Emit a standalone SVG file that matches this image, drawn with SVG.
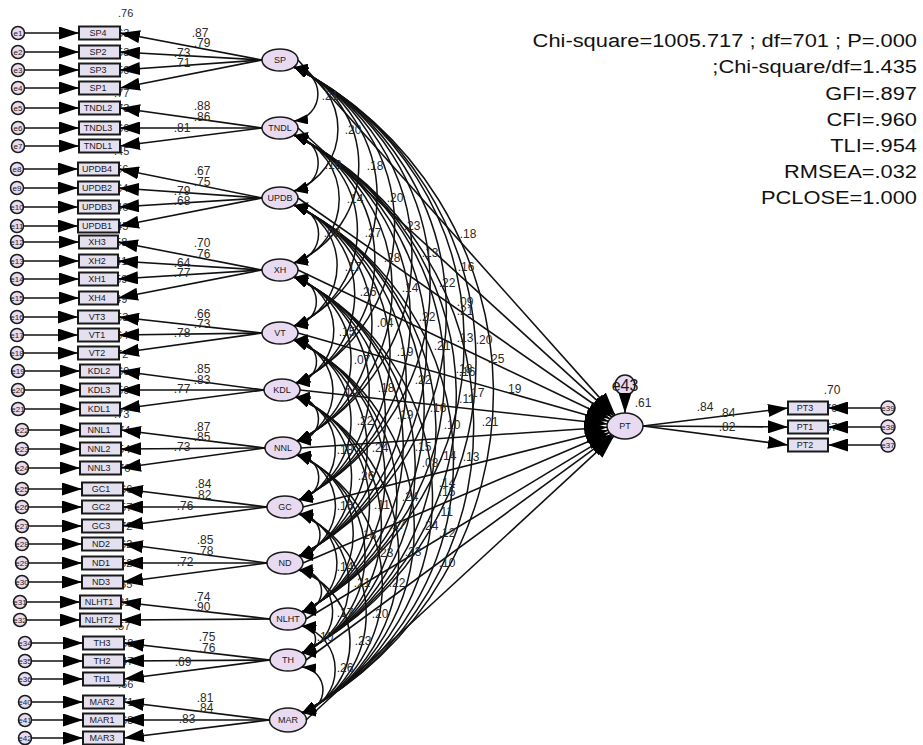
<svg xmlns="http://www.w3.org/2000/svg" width="923" height="745" viewBox="0 0 923 745">
<defs>
<style>
.t{font-family:"Liberation Sans",Arial,sans-serif;fill:#2a2a2a}
.lb{font-size:12px;text-anchor:middle}
.r2{font-size:11px}
.bx{fill:#e4e0f0;stroke:#1a1a1a;stroke-width:2}
.ov{fill:#e8dbf1;stroke:#1a1a1a;stroke-width:1.5}
.nt{font-family:"Liberation Sans",Arial,sans-serif;font-size:9px;text-anchor:middle;fill:#1a1a1a}
.et{font-family:"Liberation Sans",Arial,sans-serif;font-size:8px;text-anchor:middle;fill:#1a1a1a}
.ln line{stroke:#111;stroke-width:1.6;marker-end:url(#ah)}
.pl line{stroke:#111;stroke-width:1.6;marker-end:url(#ahb)}
.cv path{fill:none;stroke:#111;stroke-width:1.5;marker-start:url(#ca);marker-end:url(#ca)}
.st{font-family:"Liberation Sans",Arial,sans-serif;font-size:19px;text-anchor:end;fill:#111}
</style>
<marker id="ah" markerUnits="userSpaceOnUse" viewBox="0 0 20 13" markerWidth="20" markerHeight="13" refX="20" refY="6.5" orient="auto"><path d="M0,0 L20,6.5 L0,13 z" fill="#000"/></marker>
<marker id="ahb" markerUnits="userSpaceOnUse" viewBox="0 0 23 16" markerWidth="23" markerHeight="16" refX="23" refY="8" orient="auto"><path d="M0,0 L23,8 L0,16 z" fill="#000"/></marker>
<marker id="ca" markerUnits="userSpaceOnUse" viewBox="0 0 14 10" markerWidth="14" markerHeight="10" refX="14" refY="5" orient="auto-start-reverse"><path d="M0,0 L14,5 L0,10 z" fill="#000"/></marker>
</defs>
<rect width="923" height="745" fill="#fff"/>

<g class="t r2">
<text x="118" y="17">.76</text>
<text x="114" y="37">.63</text><text x="114" y="56">.53</text><text x="114" y="74">.50</text><text x="114" y="97">.77</text>
<text x="114" y="112">.73</text><text x="114" y="132">.66</text><text x="114" y="155">.45</text>
<text x="113" y="173">.56</text><text x="113" y="192">.64</text><text x="113" y="211">.46</text><text x="113" y="230">.45</text>
<text x="112" y="246">.58</text><text x="112" y="265">.41</text><text x="112" y="283">.59</text><text x="112" y="303">.49</text>
<text x="113" y="321">.53</text><text x="113" y="339">.64</text><text x="113" y="358">.72</text>
<text x="114" y="375">.69</text><text x="114" y="394">.59</text><text x="114" y="418">.73</text>
<text x="115" y="434">.74</text><text x="115" y="453">.54</text><text x="115" y="472">.76</text>
<text x="117" y="493">.66</text><text x="117" y="511">.57</text><text x="117" y="530">.72</text>
<text x="117" y="548">.62</text><text x="117" y="567">.52</text><text x="117" y="588">.55</text>
<text x="115" y="606">.81</text><text x="115" y="630">.57</text>
<text x="118" y="647">.58</text><text x="118" y="665">.47</text><text x="118" y="688">.66</text>
<text x="118" y="706">.71</text><text x="118" y="724">.68</text>
<text x="822" y="412">.70</text><text x="822" y="431">.67</text>
</g>

<g id="SP4"><rect class="bx" x="79" y="26.5" width="41" height="13"/><text class="nt" x="98" y="36">SP4</text></g>
<g id="SP2"><rect class="bx" x="79" y="45.5" width="41" height="13"/><text class="nt" x="98" y="55">SP2</text></g>
<g id="SP3"><rect class="bx" x="79" y="63.5" width="41" height="13"/><text class="nt" x="98" y="73">SP3</text></g>
<g id="SP1"><rect class="bx" x="79" y="81.5" width="41" height="13"/><text class="nt" x="98" y="91">SP1</text></g>
<g id="TNDL2"><rect class="bx" x="79" y="101.5" width="41" height="13"/><text class="nt" x="98" y="111">TNDL2</text></g>
<g id="TNDL3"><rect class="bx" x="79" y="121.5" width="41" height="13"/><text class="nt" x="98" y="131">TNDL3</text></g>
<g id="TNDL1"><rect class="bx" x="79" y="139.5" width="41" height="13"/><text class="nt" x="98" y="149">TNDL1</text></g>
<g id="UPDB4"><rect class="bx" x="78" y="162.5" width="41" height="13"/><text class="nt" x="97" y="172">UPDB4</text></g>
<g id="UPDB2"><rect class="bx" x="78" y="181.5" width="41" height="13"/><text class="nt" x="97" y="191">UPDB2</text></g>
<g id="UPDB3"><rect class="bx" x="78" y="200.5" width="41" height="13"/><text class="nt" x="97" y="210">UPDB3</text></g>
<g id="UPDB1"><rect class="bx" x="78" y="219.5" width="41" height="13"/><text class="nt" x="97" y="229">UPDB1</text></g>
<g id="XH3"><rect class="bx" x="79" y="235.5" width="39" height="13"/><text class="nt" x="97" y="245">XH3</text></g>
<g id="XH2"><rect class="bx" x="79" y="254.5" width="39" height="13"/><text class="nt" x="97" y="264">XH2</text></g>
<g id="XH1"><rect class="bx" x="79" y="272.5" width="39" height="13"/><text class="nt" x="97" y="282">XH1</text></g>
<g id="XH4"><rect class="bx" x="79" y="291.5" width="39" height="13"/><text class="nt" x="97" y="301">XH4</text></g>
<g id="VT3"><rect class="bx" x="78" y="310.5" width="41" height="13"/><text class="nt" x="97" y="320">VT3</text></g>
<g id="VT1"><rect class="bx" x="78" y="328.5" width="41" height="13"/><text class="nt" x="97" y="338">VT1</text></g>
<g id="VT2"><rect class="bx" x="78" y="346.5" width="41" height="13"/><text class="nt" x="97" y="356">VT2</text></g>
<g id="KDL2"><rect class="bx" x="80" y="364.5" width="40" height="13"/><text class="nt" x="99" y="374">KDL2</text></g>
<g id="KDL3"><rect class="bx" x="80" y="383.5" width="40" height="13"/><text class="nt" x="99" y="393">KDL3</text></g>
<g id="KDL1"><rect class="bx" x="80" y="402.5" width="40" height="13"/><text class="nt" x="99" y="412">KDL1</text></g>
<g id="NNL1"><rect class="bx" x="80" y="423.5" width="41" height="13"/><text class="nt" x="99" y="433">NNL1</text></g>
<g id="NNL2"><rect class="bx" x="80" y="442.5" width="41" height="13"/><text class="nt" x="99" y="452">NNL2</text></g>
<g id="NNL3"><rect class="bx" x="80" y="461.5" width="41" height="13"/><text class="nt" x="99" y="471">NNL3</text></g>
<g id="GC1"><rect class="bx" x="82" y="482.5" width="41" height="13"/><text class="nt" x="101" y="492">GC1</text></g>
<g id="GC2"><rect class="bx" x="82" y="500.5" width="41" height="13"/><text class="nt" x="101" y="510">GC2</text></g>
<g id="GC3"><rect class="bx" x="82" y="519.5" width="41" height="13"/><text class="nt" x="101" y="529">GC3</text></g>
<g id="ND2"><rect class="bx" x="82" y="537.5" width="41" height="13"/><text class="nt" x="101" y="547">ND2</text></g>
<g id="ND1"><rect class="bx" x="82" y="556.5" width="41" height="13"/><text class="nt" x="101" y="566">ND1</text></g>
<g id="ND3"><rect class="bx" x="82" y="575.5" width="41" height="13"/><text class="nt" x="101" y="585">ND3</text></g>
<g id="NLHT1"><rect class="bx" x="80" y="595.5" width="41" height="13"/><text class="nt" x="99" y="605">NLHT1</text></g>
<g id="NLHT2"><rect class="bx" x="80" y="613.5" width="41" height="13"/><text class="nt" x="99" y="623">NLHT2</text></g>
<g id="TH3"><rect class="bx" x="83" y="636.5" width="41" height="13"/><text class="nt" x="102" y="646">TH3</text></g>
<g id="TH2"><rect class="bx" x="83" y="654.5" width="41" height="13"/><text class="nt" x="102" y="664">TH2</text></g>
<g id="TH1"><rect class="bx" x="83" y="672.5" width="41" height="13"/><text class="nt" x="102" y="682">TH1</text></g>
<g id="MAR2"><rect class="bx" x="83" y="695.5" width="41" height="13"/><text class="nt" x="102" y="705">MAR2</text></g>
<g id="MAR1"><rect class="bx" x="83" y="713.5" width="41" height="13"/><text class="nt" x="102" y="723">MAR1</text></g>
<g id="MAR3"><rect class="bx" x="83" y="731.5" width="41" height="13"/><text class="nt" x="102" y="741">MAR3</text></g>
<g id="PT3"><rect class="bx" x="788" y="401.5" width="40" height="13"/><text class="nt" x="805" y="411">PT3</text></g>
<g id="PT1"><rect class="bx" x="788" y="420.5" width="40" height="13"/><text class="nt" x="805" y="430">PT1</text></g>
<g id="PT2"><rect class="bx" x="788" y="438.5" width="40" height="13"/><text class="nt" x="805" y="448">PT2</text></g>

<g id="e1"><circle class="ov" cx="18" cy="33" r="6.5"/><text class="et" x="18" y="36">e1</text></g>
<g id="e2"><circle class="ov" cx="18" cy="52" r="6.5"/><text class="et" x="18" y="55">e2</text></g>
<g id="e3"><circle class="ov" cx="18" cy="70" r="6.5"/><text class="et" x="18" y="73">e3</text></g>
<g id="e4"><circle class="ov" cx="18" cy="88" r="6.5"/><text class="et" x="18" y="91">e4</text></g>
<g id="e5"><circle class="ov" cx="18" cy="108" r="6.5"/><text class="et" x="18" y="111">e5</text></g>
<g id="e6"><circle class="ov" cx="18" cy="128" r="6.5"/><text class="et" x="18" y="131">e6</text></g>
<g id="e7"><circle class="ov" cx="18" cy="146" r="6.5"/><text class="et" x="18" y="149">e7</text></g>
<g id="e8"><circle class="ov" cx="17" cy="169" r="6.5"/><text class="et" x="17" y="172">e8</text></g>
<g id="e9"><circle class="ov" cx="17" cy="188" r="6.5"/><text class="et" x="17" y="191">e9</text></g>
<g id="e10"><circle class="ov" cx="17" cy="207" r="6.5"/><text class="et" x="17" y="210">e10</text></g>
<g id="e11"><circle class="ov" cx="17" cy="226" r="6.5"/><text class="et" x="17" y="229">e11</text></g>
<g id="e12"><circle class="ov" cx="17" cy="242" r="6.5"/><text class="et" x="17" y="245">e12</text></g>
<g id="e13"><circle class="ov" cx="17" cy="261" r="6.5"/><text class="et" x="17" y="264">e13</text></g>
<g id="e14"><circle class="ov" cx="17" cy="279" r="6.5"/><text class="et" x="17" y="282">e14</text></g>
<g id="e15"><circle class="ov" cx="17" cy="298" r="6.5"/><text class="et" x="17" y="301">e15</text></g>
<g id="e16"><circle class="ov" cx="17" cy="317" r="6.5"/><text class="et" x="17" y="320">e16</text></g>
<g id="e17"><circle class="ov" cx="17" cy="335" r="6.5"/><text class="et" x="17" y="338">e17</text></g>
<g id="e18"><circle class="ov" cx="17" cy="353" r="6.5"/><text class="et" x="17" y="356">e18</text></g>
<g id="e19"><circle class="ov" cx="18" cy="371" r="6.5"/><text class="et" x="18" y="374">e19</text></g>
<g id="e20"><circle class="ov" cx="18" cy="390" r="6.5"/><text class="et" x="18" y="393">e20</text></g>
<g id="e21"><circle class="ov" cx="18" cy="409" r="6.5"/><text class="et" x="18" y="412">e21</text></g>
<g id="e22"><circle class="ov" cx="22" cy="430" r="6.5"/><text class="et" x="22" y="433">e22</text></g>
<g id="e23"><circle class="ov" cx="22" cy="449" r="6.5"/><text class="et" x="22" y="452">e23</text></g>
<g id="e24"><circle class="ov" cx="22" cy="468" r="6.5"/><text class="et" x="22" y="471">e24</text></g>
<g id="e25"><circle class="ov" cx="22" cy="489" r="6.5"/><text class="et" x="22" y="492">e25</text></g>
<g id="e26"><circle class="ov" cx="22" cy="507" r="6.5"/><text class="et" x="22" y="510">e26</text></g>
<g id="e27"><circle class="ov" cx="22" cy="526" r="6.5"/><text class="et" x="22" y="529">e27</text></g>
<g id="e28"><circle class="ov" cx="22" cy="544" r="6.5"/><text class="et" x="22" y="547">e28</text></g>
<g id="e29"><circle class="ov" cx="22" cy="563" r="6.5"/><text class="et" x="22" y="566">e29</text></g>
<g id="e30"><circle class="ov" cx="22" cy="582" r="6.5"/><text class="et" x="22" y="585">e30</text></g>
<g id="e31"><circle class="ov" cx="20" cy="602" r="6.5"/><text class="et" x="20" y="605">e31</text></g>
<g id="e32"><circle class="ov" cx="20" cy="620" r="6.5"/><text class="et" x="20" y="623">e32</text></g>
<g id="e34"><circle class="ov" cx="25" cy="643" r="6.5"/><text class="et" x="25" y="646">e34</text></g>
<g id="e35"><circle class="ov" cx="25" cy="661" r="6.5"/><text class="et" x="25" y="664">e35</text></g>
<g id="e36"><circle class="ov" cx="25" cy="679" r="6.5"/><text class="et" x="25" y="682">e36</text></g>
<g id="e40"><circle class="ov" cx="25" cy="702" r="6.5"/><text class="et" x="25" y="705">e40</text></g>
<g id="e41"><circle class="ov" cx="25" cy="720" r="6.5"/><text class="et" x="25" y="723">e41</text></g>
<g id="e42"><circle class="ov" cx="25" cy="738" r="6.5"/><text class="et" x="25" y="741">e42</text></g>
<g id="e39"><circle class="ov" cx="888" cy="408" r="7"/><text class="et" x="888" y="411">e39</text></g>
<g id="e38"><circle class="ov" cx="888" cy="427" r="7"/><text class="et" x="888" y="430">e38</text></g>
<g id="e37"><circle class="ov" cx="888" cy="445" r="7"/><text class="et" x="888" y="448">e37</text></g>
<g id="e43"><circle class="ov" cx="625" cy="385" r="10"/><text x="625" y="391" style="font-family:'Liberation Sans',Arial,sans-serif;font-size:16px;text-anchor:middle;fill:#1a1a1a">e43</text></g>

<g id="SP"><ellipse class="ov" cx="280" cy="60" rx="18" ry="11"/><text class="nt" x="280" y="63">SP</text></g>
<g id="TNDL"><ellipse class="ov" cx="280" cy="128" rx="18" ry="11"/><text class="nt" x="280" y="131">TNDL</text></g>
<g id="UPDB"><ellipse class="ov" cx="280" cy="198" rx="18" ry="11"/><text class="nt" x="280" y="201">UPDB</text></g>
<g id="XH"><ellipse class="ov" cx="280" cy="270" rx="18" ry="11"/><text class="nt" x="280" y="273">XH</text></g>
<g id="VT"><ellipse class="ov" cx="280" cy="333" rx="18" ry="11"/><text class="nt" x="280" y="336">VT</text></g>
<g id="KDL"><ellipse class="ov" cx="282" cy="390" rx="18" ry="11"/><text class="nt" x="282" y="393">KDL</text></g>
<g id="NNL"><ellipse class="ov" cx="283" cy="448" rx="18" ry="11"/><text class="nt" x="283" y="451">NNL</text></g>
<g id="GC"><ellipse class="ov" cx="285" cy="507" rx="18" ry="11"/><text class="nt" x="285" y="510">GC</text></g>
<g id="ND"><ellipse class="ov" cx="285" cy="563" rx="18" ry="11"/><text class="nt" x="285" y="566">ND</text></g>
<g id="NLHT"><ellipse class="ov" cx="288" cy="619" rx="18" ry="11"/><text class="nt" x="288" y="622">NLHT</text></g>
<g id="TH"><ellipse class="ov" cx="288" cy="660" rx="18" ry="11"/><text class="nt" x="288" y="663">TH</text></g>
<g id="MAR"><ellipse class="ov" cx="288" cy="720" rx="18.5" ry="12"/><text class="nt" x="288" y="723">MAR</text></g>
<g id="PT"><ellipse class="ov" cx="625" cy="426" rx="18" ry="13"/><text class="nt" x="625" y="429">PT</text></g>

<g id="connectors">
<g class="ln">
<line x1="24.5" y1="33" x2="79" y2="33"/><line x1="24.5" y1="52" x2="79" y2="52"/><line x1="24.5" y1="70" x2="79" y2="70"/><line x1="24.5" y1="88" x2="79" y2="88"/>
<line x1="24.5" y1="108" x2="79" y2="108"/><line x1="24.5" y1="128" x2="79" y2="128"/><line x1="24.5" y1="146" x2="79" y2="146"/>
<line x1="23.5" y1="169" x2="78" y2="169"/><line x1="23.5" y1="188" x2="78" y2="188"/><line x1="23.5" y1="207" x2="78" y2="207"/><line x1="23.5" y1="226" x2="78" y2="226"/>
<line x1="23.5" y1="242" x2="79" y2="242"/><line x1="23.5" y1="261" x2="79" y2="261"/><line x1="23.5" y1="279" x2="79" y2="279"/><line x1="23.5" y1="298" x2="79" y2="298"/>
<line x1="23.5" y1="317" x2="78" y2="317"/><line x1="23.5" y1="335" x2="78" y2="335"/><line x1="23.5" y1="353" x2="78" y2="353"/>
<line x1="24.5" y1="371" x2="80" y2="371"/><line x1="24.5" y1="390" x2="80" y2="390"/><line x1="24.5" y1="409" x2="80" y2="409"/>
<line x1="28.5" y1="430" x2="80" y2="430"/><line x1="28.5" y1="449" x2="80" y2="449"/><line x1="28.5" y1="468" x2="80" y2="468"/>
<line x1="28.5" y1="489" x2="82" y2="489"/><line x1="28.5" y1="507" x2="82" y2="507"/><line x1="28.5" y1="526" x2="82" y2="526"/>
<line x1="28.5" y1="544" x2="82" y2="544"/><line x1="28.5" y1="563" x2="82" y2="563"/><line x1="28.5" y1="582" x2="82" y2="582"/>
<line x1="26.5" y1="602" x2="80" y2="602"/><line x1="26.5" y1="620" x2="80" y2="620"/>
<line x1="31.5" y1="643" x2="83" y2="643"/><line x1="31.5" y1="661" x2="83" y2="661"/><line x1="31.5" y1="679" x2="83" y2="679"/>
<line x1="31.5" y1="702" x2="83" y2="702"/><line x1="31.5" y1="720" x2="83" y2="720"/><line x1="31.5" y1="738" x2="83" y2="738"/>
<line x1="881" y1="408" x2="828" y2="408"/><line x1="881" y1="427" x2="828" y2="427"/><line x1="881" y1="445" x2="828" y2="445"/>
<line x1="262" y1="60" x2="120" y2="33"/><line x1="262" y1="60" x2="120" y2="52"/><line x1="262" y1="60" x2="120" y2="70"/><line x1="262" y1="60" x2="120" y2="88"/>
<line x1="262" y1="128" x2="120" y2="108"/><line x1="262" y1="128" x2="120" y2="128"/><line x1="262" y1="128" x2="120" y2="146"/>
<line x1="262" y1="198" x2="119" y2="169"/><line x1="262" y1="198" x2="119" y2="188"/><line x1="262" y1="198" x2="119" y2="207"/><line x1="262" y1="198" x2="119" y2="226"/>
<line x1="262" y1="270" x2="118" y2="242"/><line x1="262" y1="270" x2="118" y2="261"/><line x1="262" y1="270" x2="118" y2="279"/><line x1="262" y1="270" x2="118" y2="298"/>
<line x1="262" y1="333" x2="119" y2="317"/><line x1="262" y1="333" x2="119" y2="335"/><line x1="262" y1="333" x2="119" y2="353"/>
<line x1="264" y1="390" x2="120" y2="371"/><line x1="264" y1="390" x2="120" y2="390"/><line x1="264" y1="390" x2="120" y2="409"/>
<line x1="265" y1="448" x2="121" y2="430"/><line x1="265" y1="448" x2="121" y2="449"/><line x1="265" y1="448" x2="121" y2="468"/>
<line x1="267" y1="507" x2="123" y2="489"/><line x1="267" y1="507" x2="123" y2="507"/><line x1="267" y1="507" x2="123" y2="526"/>
<line x1="267" y1="563" x2="123" y2="544"/><line x1="267" y1="563" x2="123" y2="563"/><line x1="267" y1="563" x2="123" y2="582"/>
<line x1="270" y1="619" x2="121" y2="602"/><line x1="270" y1="619" x2="121" y2="620"/>
<line x1="270" y1="660" x2="124" y2="643"/><line x1="270" y1="660" x2="124" y2="661"/><line x1="270" y1="660" x2="124" y2="679"/>
<line x1="269.5" y1="720" x2="124" y2="702"/><line x1="269.5" y1="720" x2="124" y2="720"/><line x1="269.5" y1="720" x2="124" y2="738"/>
<line x1="643" y1="426" x2="788" y2="408"/><line x1="643" y1="426" x2="788" y2="427"/><line x1="643" y1="426" x2="788" y2="445"/>
<line x1="625" y1="395" x2="625" y2="413"/>
</g>
<g class="pl">
<line x1="298" y1="60" x2="615.2" y2="415.1"/><line x1="298" y1="128" x2="613.8" y2="415.8"/><line x1="298" y1="198" x2="612.1" y2="417"/>
<line x1="298" y1="270" x2="610" y2="418.8"/><line x1="298" y1="333" x2="608.3" y2="421.2"/><line x1="300" y1="390" x2="607.2" y2="424"/>
<line x1="301" y1="448" x2="607.1" y2="427.2"/><line x1="303" y1="507" x2="608" y2="430.3"/><line x1="303" y1="563" x2="609.5" y2="432.6"/>
<line x1="306" y1="619" x2="611.2" y2="434.4"/><line x1="306" y1="660" x2="612.4" y2="435.3"/><line x1="306" y1="720" x2="613.9" y2="436.2"/>
</g>
<g class="cv">
<path d="M294,67A27.2,27.2 0 0 1 294,121"/>
<path d="M294,67A65.7,65.7 0 0 1 294,191"/>
<path d="M294,67A106.5,106.5 0 0 1 294,263"/>
<path d="M294,67A142.4,142.4 0 0 1 294,326"/>
<path d="M294,67A175.1,175.1 0 0 1 296,383"/>
<path d="M294,67A208.4,208.4 0 0 1 297,441"/>
<path d="M294,67A242.2,242.2 0 0 1 299,500"/>
<path d="M294,67A274.4,274.4 0 0 1 299,556"/>
<path d="M294,67A306.6,306.6 0 0 1 302,612"/>
<path d="M294,67A330.2,330.2 0 0 1 302,653"/>
<path d="M294,67A364.7,364.7 0 0 1 302,713"/>
<path d="M294,135A28.3,28.3 0 0 1 294,191"/>
<path d="M294,135A67.9,67.9 0 0 1 294,263"/>
<path d="M294,135A103.6,103.6 0 0 1 294,326"/>
<path d="M294,135A136.2,136.2 0 0 1 296,383"/>
<path d="M294,135A169.4,169.4 0 0 1 297,441"/>
<path d="M294,135A203.2,203.2 0 0 1 299,500"/>
<path d="M294,135A235.4,235.4 0 0 1 299,556"/>
<path d="M294,135A267.5,267.5 0 0 1 302,612"/>
<path d="M294,135A291.1,291.1 0 0 1 302,653"/>
<path d="M294,135A325.6,325.6 0 0 1 302,713"/>
<path d="M294,205A29.4,29.4 0 0 1 294,263"/>
<path d="M294,205A64,64 0 0 1 294,326"/>
<path d="M294,205A96.2,96.2 0 0 1 296,383"/>
<path d="M294,205A129.3,129.3 0 0 1 297,441"/>
<path d="M294,205A163.1,163.1 0 0 1 299,500"/>
<path d="M294,205A195.2,195.2 0 0 1 299,556"/>
<path d="M294,205A227.3,227.3 0 0 1 302,612"/>
<path d="M294,205A250.9,250.9 0 0 1 302,653"/>
<path d="M294,205A285.3,285.3 0 0 1 302,713"/>
<path d="M294,277A24.6,24.6 0 0 1 294,326"/>
<path d="M294,277A55.6,55.6 0 0 1 296,383"/>
<path d="M294,277A88.3,88.3 0 0 1 297,441"/>
<path d="M294,277A121.9,121.9 0 0 1 299,500"/>
<path d="M294,277A153.9,153.9 0 0 1 299,556"/>
<path d="M294,277A186,186 0 0 1 302,612"/>
<path d="M294,277A209.5,209.5 0 0 1 302,653"/>
<path d="M294,277A244,244 0 0 1 302,713"/>
<path d="M294,340A21.5,21.5 0 0 1 296,383"/>
<path d="M294,340A52.8,52.8 0 0 1 297,441"/>
<path d="M294,340A86,86 0 0 1 299,500"/>
<path d="M294,340A117.9,117.9 0 0 1 299,556"/>
<path d="M294,340A149.9,149.9 0 0 1 302,612"/>
<path d="M294,340A173.4,173.4 0 0 1 302,653"/>
<path d="M294,340A207.8,207.8 0 0 1 302,713"/>
<path d="M296,397A22,22 0 0 1 297,441"/>
<path d="M296,397A54,54 0 0 1 299,500"/>
<path d="M296,397A85.5,85.5 0 0 1 299,556"/>
<path d="M296,397A117.3,117.3 0 0 1 302,612"/>
<path d="M296,397A140.7,140.7 0 0 1 302,653"/>
<path d="M296,397A175.1,175.1 0 0 1 302,713"/>
<path d="M297,455A22.6,22.6 0 0 1 299,500"/>
<path d="M297,455A52.8,52.8 0 0 1 299,556"/>
<path d="M297,455A84.3,84.3 0 0 1 302,612"/>
<path d="M297,455A107.6,107.6 0 0 1 302,653"/>
<path d="M297,455A141.9,141.9 0 0 1 302,713"/>
<path d="M299,514A21,21 0 0 1 299,556"/>
<path d="M299,514A51.2,51.2 0 0 1 302,612"/>
<path d="M299,514A74.1,74.1 0 0 1 302,653"/>
<path d="M299,514A108.2,108.2 0 0 1 302,713"/>
<path d="M299,570A21,21 0 0 1 302,612"/>
<path d="M299,570A42.9,42.9 0 0 1 302,653"/>
<path d="M299,570A76.4,76.4 0 0 1 302,713"/>
<path d="M302,626A13.5,13.5 0 0 1 302,653"/>
<path d="M302,626A45.1,45.1 0 0 1 302,713"/>
<path d="M302,667A23.1,23.1 0 0 1 302,713"/>
</g>
</g>

<g class="t lb">
<text x="200" y="37">.87</text><text x="202" y="47">.79</text><text x="182" y="57">.73</text><text x="182" y="67">.71</text>
<text x="202" y="110">.88</text><text x="202" y="121">.86</text><text x="182" y="132">.81</text>
<text x="202" y="175">.67</text><text x="202" y="186">.75</text><text x="182" y="195">.79</text><text x="182" y="205">.68</text>
<text x="202" y="247">.70</text><text x="202" y="258">.76</text><text x="182" y="267">.64</text><text x="182" y="277">.77</text>
<text x="202" y="318">.66</text><text x="202" y="328">.73</text><text x="182" y="337">.78</text>
<text x="202" y="373">.85</text><text x="202" y="384">.83</text><text x="182" y="393">.77</text>
<text x="202" y="431">.87</text><text x="202" y="441">.85</text><text x="182" y="451">.73</text>
<text x="203" y="488">.84</text><text x="203" y="499">.82</text><text x="185" y="510">.76</text>
<text x="205" y="544">.85</text><text x="205" y="555">.78</text><text x="185" y="566">.72</text>
<text x="202" y="601">.74</text><text x="202" y="611">.90</text>
<text x="207" y="641">.75</text><text x="207" y="652">.76</text><text x="183" y="666">.69</text>
<text x="205" y="702">.81</text><text x="205" y="712">.84</text><text x="187" y="723">.83</text>
<text x="705" y="411">.84</text><text x="727" y="417">.84</text><text x="727" y="431">.82</text>
<text x="832" y="394">.70</text><text x="643" y="407">.61</text>
</g>

<g class="t lb">
<text x="330" y="100">.21</text><text x="353" y="134">.20</text><text x="333" y="169">.16</text><text x="375" y="170">.18</text>
<text x="355" y="203">.14</text><text x="395" y="202">.20</text><text x="332" y="237">.08</text><text x="373" y="237">.27</text>
<text x="412" y="230">.23</text><text x="468" y="238">.18</text><text x="392" y="262">.28</text><text x="430" y="257">.13</text>
<text x="466" y="271">.16</text><text x="353" y="271">.17</text><text x="410" y="292">.14</text><text x="447" y="287">.22</text>
<text x="368" y="296">.26</text><text x="465" y="306">.09</text><text x="465" y="315">.21</text><text x="385" y="327">.04</text>
<text x="427" y="321">.22</text><text x="347" y="336">.15</text><text x="465" y="342">.13</text><text x="484" y="344">.20</text>
<text x="442" y="350">.21</text><text x="496" y="363">.25</text><text x="405" y="356">.19</text><text x="362" y="364">.07</text>
<text x="464" y="373">.18</text><text x="467" y="376">.16</text><text x="423" y="384">.22</text><text x="476" y="397">.17</text>
<text x="467" y="403">.11</text><text x="513" y="393">.19</text><text x="350" y="397">.19</text><text x="386" y="392">.18</text>
<text x="438" y="412">.16</text><text x="405" y="419">.19</text><text x="365" y="425">.22</text><text x="452" y="429">.10</text>
<text x="490" y="426">.21</text><text x="345" y="454">.18</text><text x="380" y="452">.24</text><text x="423" y="451">.15</text>
<text x="430" y="467">.08</text><text x="448" y="460">.14</text><text x="471" y="461">.13</text><text x="366" y="480">.26</text>
<text x="447" y="487">.14</text><text x="447" y="496">.15</text><text x="410" y="501">.24</text><text x="382" y="509">.11</text>
<text x="345" y="510">.16</text><text x="445" y="516">.11</text><text x="397" y="529">.17</text><text x="430" y="530">.24</text>
<text x="447" y="537">.12</text><text x="368" y="539">.18</text><text x="385" y="557">.23</text><text x="413" y="556">.23</text>
<text x="447" y="567">.10</text><text x="345" y="571">.14</text><text x="362" y="587">.21</text><text x="397" y="587">.22</text>
<text x="345" y="617">.17</text><text x="380" y="618">.20</text><text x="325" y="641">.10</text><text x="363" y="645">.23</text>
<text x="345" y="672">.26</text>
</g>

<g transform="translate(917,0) scale(1.15,1)">
<text class="st" x="0" y="47">Chi-square=1005.717 ; df=701 ; P=.000</text>
<text class="st" x="0" y="73">;Chi-square/df=1.435</text>
<text class="st" x="0" y="100">GFI=.897</text>
<text class="st" x="0" y="126">CFI=.960</text>
<text class="st" x="0" y="152">TLI=.954</text>
<text class="st" x="0" y="178">RMSEA=.032</text>
<text class="st" x="0" y="204">PCLOSE=1.000</text>
</g>
</svg>
